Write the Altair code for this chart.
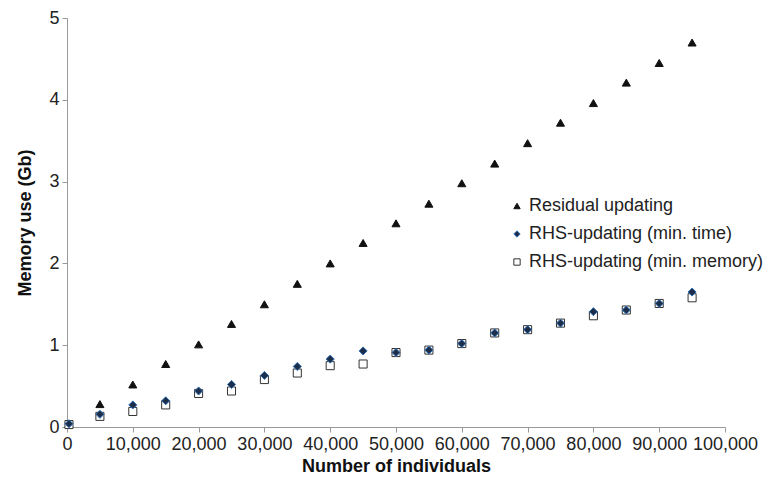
import altair as alt
import pandas as pd

individuals = [300, 5000, 10000, 15000, 20000, 25000, 30000, 35000, 40000, 45000,
               50000, 55000, 60000, 65000, 70000, 75000, 80000, 85000, 90000, 95000]
residual = [0.04, 0.28, 0.52, 0.77, 1.01, 1.26, 1.50, 1.75, 2.00, 2.25,
            2.49, 2.73, 2.98, 3.22, 3.47, 3.72, 3.96, 4.21, 4.45, 4.70]
rhs_time = [0.04, 0.155, 0.27, 0.32, 0.44, 0.52, 0.63, 0.74, 0.83, 0.93,
            0.91, 0.94, 1.02, 1.15, 1.19, 1.27, 1.41, 1.43, 1.51, 1.65]
rhs_memory = [0.03, 0.13, 0.19, 0.27, 0.41, 0.44, 0.58, 0.66, 0.75, 0.77,
              0.91, 0.94, 1.02, 1.15, 1.19, 1.27, 1.36, 1.43, 1.51, 1.58]

series_names = ["Residual updating", "RHS-updating (min. time)", "RHS-updating (min. memory)"]

rows = []
for name, vals in [(series_names[0], residual), (series_names[2], rhs_memory), (series_names[1], rhs_time)]:
    for xv, yv in zip(individuals, vals):
        rows.append({"n": xv, "mem": yv, "series": name})
df = pd.DataFrame(rows)
df["order"] = df["series"].map({series_names[0]: 0, series_names[2]: 1, series_names[1]: 2})

FONT = "Liberation Sans"

def leg():
    return alt.Legend(orient="none", legendX=441, legendY=179, title=None,
                      labelFontSize=18, labelFont=FONT, labelColor="#222", labelLimit=0,
                      symbolSize=40, rowPadding=10, labelOffset=3, symbolStrokeWidth=1)

chart = alt.Chart(df).mark_point(filled=True, opacity=1, strokeWidth=1, size=65).encode(
    x=alt.X("n:Q", scale=alt.Scale(domain=[0, 100000], nice=False),
            axis=alt.Axis(title="Number of individuals", values=list(range(0, 100001, 10000)),
                          format=",d", grid=False, labelOverlap=False, labelFlush=False)),
    y=alt.Y("mem:Q", scale=alt.Scale(domain=[0, 5], nice=False),
            axis=alt.Axis(title="Memory use (Gb)", values=[0, 1, 2, 3, 4, 5], grid=False,
                          labelFlush=False)),
    shape=alt.Shape("series:N", scale=alt.Scale(domain=series_names,
                    range=["triangle-up", "diamond", "square"]), legend=leg()),
    fill=alt.Fill("series:N", scale=alt.Scale(domain=series_names,
                  range=["#111111", "#1c2e4a", "#ffffff"]), legend=leg()),
    stroke=alt.Stroke("series:N", scale=alt.Scale(domain=series_names,
                      range=["#111111", "#2f6fb5", "#333333"]), legend=leg()),
    order=alt.Order("order:Q"),
).properties(
    width=658, height=409,
    autosize=alt.AutoSizeParams(type="none"),
    padding={"left": 59, "top": 10, "right": 39, "bottom": 48},
).configure_view(stroke=None).configure_axis(
    labelFont=FONT, titleFont=FONT, labelFontSize=18, titleFontSize=18,
    labelColor="#222", titleColor="#111", titleFontWeight="bold",
    domainColor="#999", tickColor="#999", tickSize=5, labelPadding=3,
).configure_axisY(titlePadding=14).configure_axisX(titlePadding=4)

chart.save("out.html", embed_options={"renderer": "svg", "actions": False})
